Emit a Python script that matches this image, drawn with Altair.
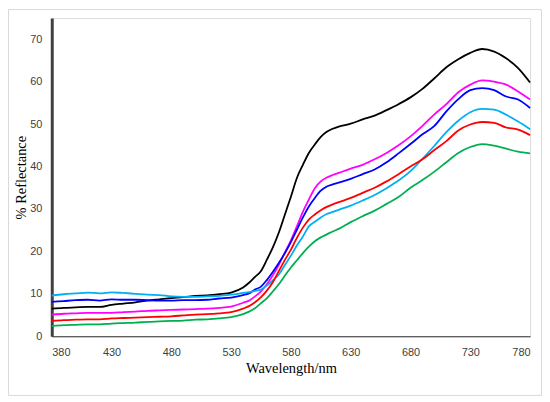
import altair as alt
import pandas as pd

wavelength = list(range(380, 540, 10)) + list(range(540, 625, 5)) + list(range(630, 790, 10))

black = [6.5, 6.7, 6.8, 6.9, 6.9, 7.4, 7.7, 8.0, 8.4, 8.7, 9.0, 9.2, 9.5, 9.6, 9.9, 10.3,
         11.5, 12.6, 14.0, 15.4, 18.1, 21.0, 24.5, 28.7, 32.9, 37.3, 40.4, 43.2, 45.2, 47.0, 48.2, 48.9, 49.4,
         50.1, 51.1, 52.0, 53.3, 54.7, 56.3, 58.3, 60.8, 63.4, 65.3, 66.8, 67.7, 67.1, 65.5, 63.2, 59.8]
magenta = [5.1, 5.3, 5.4, 5.5, 5.5, 5.5, 5.7, 5.8, 6.0, 6.1, 6.2, 6.3, 6.4, 6.5, 6.7, 7.0,
           7.9, 8.4, 9.4, 10.6, 12.3, 14.4, 16.9, 19.8, 22.6, 25.9, 29.3, 32.2, 34.9, 36.5, 37.4, 38.0, 38.5,
           39.5, 40.4, 41.7, 43.2, 45.0, 47.1, 49.6, 52.3, 54.7, 57.5, 59.3, 60.3, 60.0, 59.3, 57.7, 55.8]
blue = [8.1, 8.3, 8.5, 8.6, 8.4, 8.7, 8.6, 8.6, 8.5, 8.4, 8.4, 8.5, 8.5, 8.6, 8.9, 9.1,
        9.7, 10.1, 11.0, 11.7, 13.3, 15.2, 17.3, 19.6, 22.2, 25.1, 28.0, 30.6, 32.6, 34.3, 35.3, 35.8, 36.2,
        37.1, 38.2, 39.3, 41.0, 43.1, 45.3, 47.6, 49.6, 53.0, 55.9, 58.0, 58.5, 58.0, 56.5, 55.8, 53.8]
cyan = [9.6, 9.9, 10.1, 10.3, 10.1, 10.35, 10.2, 10.0, 9.8, 9.7, 9.4, 9.3, 9.3, 9.4, 9.5, 9.8,
        10.2, 10.4, 10.7, 11.0, 12.0, 13.2, 14.6, 16.8, 19.0, 21.4, 23.5, 25.9, 27.0, 28.0, 28.8, 29.3, 29.8,
        30.8, 32.0, 33.3, 34.9, 36.7, 38.9, 41.8, 44.9, 48.1, 50.8, 52.8, 53.6, 53.4, 52.2, 50.6, 48.8]
red = [3.6, 3.8, 3.9, 4.0, 4.0, 4.2, 4.3, 4.4, 4.5, 4.6, 4.7, 4.9, 5.1, 5.2, 5.4, 5.7,
       6.5, 7.1, 8.0, 9.2, 10.8, 12.8, 15.4, 18.0, 20.4, 23.2, 25.6, 27.5, 28.7, 29.7, 30.5, 31.1, 31.6,
       32.6, 33.8, 35.0, 36.5, 38.2, 40.0, 41.7, 43.9, 46.0, 48.5, 49.9, 50.5, 50.3, 49.2, 48.7, 47.4]
green = [2.4, 2.6, 2.7, 2.8, 2.8, 3.0, 3.1, 3.2, 3.4, 3.5, 3.6, 3.7, 3.9, 4.0, 4.2, 4.5,
         5.2, 5.8, 6.6, 7.8, 9.0, 10.6, 12.3, 14.3, 16.2, 17.9, 19.6, 21.1, 22.4, 23.3, 24.0, 24.7, 25.3,
         26.9, 28.3, 29.6, 31.2, 32.8, 35.0, 36.8, 38.8, 41.0, 43.2, 44.6, 45.3, 44.9, 44.2, 43.5, 43.1]

series = {"Black": black, "Magenta": magenta, "Blue": blue,
          "Cyan": cyan, "Red": red, "Green": green}
colors = ["#000000", "#FF00FF", "#0000FF", "#00B0F0", "#FF0000", "#00B050"]
x_ticks = [380, 430, 480, 530, 580, 630, 680, 730, 780]
y_ticks = [0, 10, 20, 30, 40, 50, 60, 70]

rows = []
for name, vals in series.items():
    for w, v in zip(wavelength, vals):
        rows.append({"series": name, "wavelength": w, "reflectance": v})
df = pd.DataFrame(rows)

axis_style = dict(grid=False, ticks=False, domain=True,
                  labelColor="#404040", labelFont="Liberation Sans", labelFontSize=11,
                  labelPadding=10, titleFont="Liberation Serif", titleFontSize=14.5,
                  titleFontWeight="normal", titleColor="#000000")

lines = alt.Chart(df).mark_line(strokeWidth=1.8, interpolate="monotone").encode(
    x=alt.X("wavelength:Q",
            scale=alt.Scale(domain=[380, 780], nice=False, zero=False),
            axis=alt.Axis(values=x_ticks, title="Wavelength/nm", titlePadding=4,
                          domainWidth=1.2, domainColor="#333333", **axis_style)),
    y=alt.Y("reflectance:Q",
            scale=alt.Scale(domain=[0, 75], nice=False),
            axis=alt.Axis(values=y_ticks, title="% Reflectance", titlePadding=1,
                          domainWidth=3, domainColor="#404040", **axis_style)),
    color=alt.Color("series:N", scale=alt.Scale(domain=list(series.keys()), range=colors), legend=None),
    order=alt.Order("wavelength:Q"),
)

frame = alt.Chart(pd.DataFrame({"k": [0]})).mark_rect(
    fillOpacity=0, stroke="#D9D9D9", strokeWidth=1
).encode(
    x=alt.value(-43.5), x2=alt.value(492.5), y=alt.value(-8.5), y2=alt.value(379.5)
)

chart = alt.layer(frame, lines).properties(
    width=481, height=320,
    autosize=alt.AutoSizeParams(type="none"),
    padding={"left": 44, "top": 9, "right": 12, "bottom": 60},
).configure_view(stroke=None).configure(background="#FFFFFF")

chart.save("out.html", embed_options={"renderer": "svg", "actions": False})
